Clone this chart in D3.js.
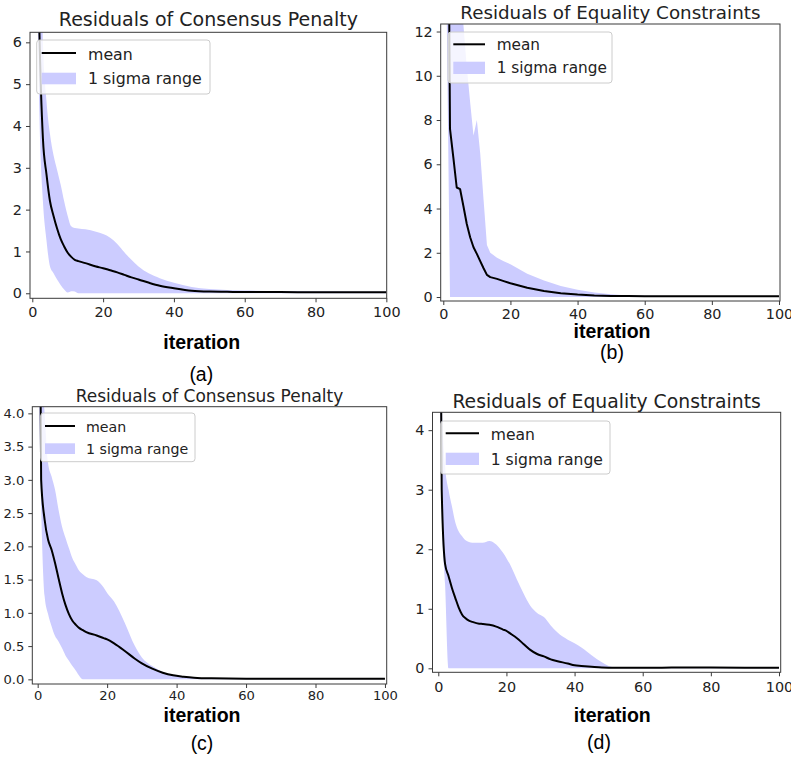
<!DOCTYPE html>
<html>
<head>
<meta charset="utf-8">
<script src="https://cdn.jsdelivr.net/npm/d3@7"></script>
<style>
  html, body { margin: 0; padding: 0; background: #fff; }
  svg { display: block; }
</style>
</head>
<body>
<script>
// ---------------- data ----------------
// (a) consensus penalty residuals, run 1
const iterA  = [1,2,3,4,5,6,7,8,9,10,11,12,13,15,18,20,22,24,26,28,30,33,36,40,45,50,55,60,70,80,90,100];
const meanA  = [12,6.3,3.7,2.85,2.2,1.85,1.55,1.3,1.12,0.97,0.87,0.8,0.77,0.72,0.64,0.6,0.55,0.5,0.44,0.38,0.33,0.25,0.18,0.12,0.06,0.04,0.035,0.03,0.03,0.025,0.025,0.025];
const upperA = [20,12,6.0,4.6,3.8,3.3,2.95,2.6,2.2,1.85,1.6,1.56,1.55,1.53,1.47,1.42,1.33,1.18,0.98,0.8,0.64,0.47,0.36,0.25,0.15,0.1,0.08,0.065,0.055,0.05,0.045,0.04];
const lowerA = [10,4.3,2.2,1.27,0.64,0.48,0.33,0.2,0.09,0.02,0.05,0.04,0,0,0,0,0,0,0,0,0,0,0,0,0,0,0,0,0,0,0,0];

// (b) equality constraint residuals, run 1
const iterB  = [1,2,3,4,5,6,7,8,9,10,11,12,13,14,16,18,20,25,30,35,40,45,50,55,60,70,80,90,100];
const meanB  = [30,7.6,6.3,4.95,4.88,4.1,3.3,2.7,2.25,1.95,1.62,1.3,1.0,0.9,0.82,0.72,0.62,0.42,0.27,0.17,0.11,0.07,0.05,0.045,0.04,0.035,0.03,0.03,0.03];
const upperB = [40,25,18,15,13.5,12.3,10.4,8.8,7.3,8.0,6.5,4.4,2.35,2.0,1.78,1.62,1.48,1.05,0.75,0.5,0.33,0.2,0.12,0.07,0.055,0.045,0.04,0.04,0.035];
const lowerB = [13,0,0,0,0,0,0,0,0,0,0,0,0,0,0,0,0,0,0,0,0,0,0,0,0,0,0,0,0];

// (c) consensus penalty residuals, run 2
const iterC  = [0,1,2,3,4,5,6,7,8,9,10,11,12,13,14,17,19,20,22,25,28,30,33,36,39,42,45,50,60,70,80,90,100];
const meanC  = [11,3.0,2.4,2.1,1.95,1.75,1.52,1.3,1.12,0.98,0.88,0.82,0.77,0.74,0.71,0.66,0.62,0.6,0.54,0.43,0.31,0.24,0.16,0.1,0.06,0.04,0.025,0.015,0.01,0.01,0.01,0.01,0.01];
const upperC = [16.4,4.8,4.0,3.25,3.05,2.85,2.55,2.3,2.13,1.97,1.82,1.72,1.63,1.58,1.54,1.49,1.38,1.3,1.17,0.86,0.5,0.33,0.2,0.11,0.06,0.04,0.02,0.012,0.01,0.01,0.01,0.01,0.01];
const lowerC = [5.6,2.6,1.25,0.98,0.8,0.65,0.57,0.47,0.36,0.28,0.2,0.13,0.05,0,0,0,0,0,0,0,0,0,0,0,0,0,0,0,0,0,0,0,0];

// (d) equality constraint residuals, run 2
const iterD  = [0,1,2,3,4,5,6,7,8,9,10,12,13,15,17,19,20,21,23,25,27,29,31,33,35,38,40,42,45,48,50,52,55,65,72,80,90,100];
const meanD  = [12,3.0,1.75,1.55,1.35,1.18,1.02,0.9,0.84,0.8,0.78,0.75,0.745,0.73,0.7,0.65,0.63,0.59,0.51,0.41,0.31,0.24,0.2,0.15,0.12,0.08,0.05,0.04,0.025,0.012,0.01,0.01,0.01,0.01,0.015,0.012,0.01,0.01];
const upperD = [16,4.6,3.4,3.0,2.72,2.45,2.3,2.22,2.15,2.12,2.11,2.11,2.11,2.14,2.08,1.94,1.85,1.75,1.5,1.26,1.05,0.93,0.86,0.72,0.6,0.48,0.42,0.35,0.22,0.1,0.04,0.015,0.01,0.01,0.015,0.012,0.01,0.01];
const lowerD = [8,2.6,1.4,0,0,0,0,0,0,0,0,0,0,0,0,0,0,0,0,0,0,0,0,0,0,0,0,0,0,0,0,0,0,0,0,0,0,0];

// tick labels and texts
const xTicks  = [0,20,40,60,80,100];
const yTicksA = [0,1,2,3,4,5,6];
const yTicksB = [0,2,4,6,8,10,12];
const yTicksC = [0,0.5,1,1.5,2,2.5,3,3.5,4];
const yTicksD = [0,1,2,3,4];
const titleConsensus = "Residuals of Consensus Penalty";
const titleEquality  = "Residuals of Equality Constraints";
const xLabelText = "iteration";
const legendLabels = ["mean", "1 sigma range"];
const captions = ["(a)", "(b)", "(c)", "(d)"];

// ---------------- layout ----------------
const W = 791, H = 758;
const BAND = "#ccccff";
const TEXT = "#222";
const SPINE = "#3a3a3a";
const MPL_FONT = "'DejaVu Sans', sans-serif";
const CAP_FONT = "'Liberation Sans', Arial, sans-serif";

const panels = [
  { iter: iterA, mean: meanA, upper: upperA, lower: lowerA, yTicks: yTicksA, yFmt: d3.format("d"),
    title: titleConsensus, caption: captions[0], curve: d3.curveMonotoneX,
    box: { l: 30, t: 32.3, r: 386.7, b: 298.3 }, xDom: [-0.65, 100.1], yDom: [-0.12, 6.24],
    tickSize: 14.4, xTickCenter: 312.5,
    titlePos: { y: 25.5, size: 19 }, xlab: { x: 201.7, y: 349 }, cap: { x: 201.3, y: 381 },
    leg: { x0: 36.7, y0: 40, x1: 210, y1: 94, hx0: 41.7, hx1: 76, ly: 53, py0: 72.7, py1: 84.3,
           tx: 88, t1: 60, t2: 84.3, size: 15.8 } },
  { iter: iterB, mean: meanB, upper: upperB, lower: lowerB, yTicks: yTicksB, yFmt: d3.format("d"),
    title: titleEquality, caption: captions[1], curve: d3.curveLinear,
    box: { l: 440.7, t: 24, r: 780, b: 301 }, xDom: [-0.77, 100.3], yDom: [-0.18, 12.34],
    tickSize: 14.4, xTickCenter: 314,
    titlePos: { y: 19, size: 18.3 }, xlab: { x: 612, y: 337.5 }, cap: { x: 612, y: 359 },
    leg: { x0: 448, y0: 32, x1: 612, y1: 83, hx0: 453.3, hx1: 485, ly: 44.3, py0: 61.7, py1: 74,
           tx: 496.7, t1: 50, t2: 73.3, size: 15.3 } },
  { iter: iterC, mean: meanC, upper: upperC, lower: lowerC, yTicks: yTicksC, yFmt: d3.format(".1f"),
    title: titleConsensus, caption: captions[2], curve: d3.curveMonotoneX,
    box: { l: 32.3, t: 406.7, r: 386.7, b: 684 }, xDom: [-1.55, 100.5], yDom: [-0.07, 4.1],
    tickSize: 13.1, xTickCenter: 695.8,
    titlePos: { y: 401.7, size: 17 }, xlab: { x: 202, y: 721.5 }, cap: { x: 202, y: 750 },
    leg: { x0: 40.7, y0: 413, x1: 195, y1: 461.7, hx0: 45, hx1: 75, ly: 426, py0: 443.3, py1: 454,
           tx: 86, t1: 431.7, t2: 454, size: 14.2 } },
  { iter: iterD, mean: meanD, upper: upperD, lower: lowerD, yTicks: yTicksD, yFmt: d3.format("d"),
    title: titleEquality, caption: captions[3], curve: d3.curveMonotoneX,
    box: { l: 432.5, t: 412.3, r: 780.7, b: 672.3 }, xDom: [-1.7, 100.5], yDom: [-0.067, 4.3],
    tickSize: 14.4, xTickCenter: 687.5,
    titlePos: { y: 408, size: 18.8 }, xlab: { x: 612.3, y: 721.7 }, cap: { x: 599, y: 749 },
    leg: { x0: 440.7, y0: 421, x1: 610, y1: 474, hx0: 445.7, hx1: 479, ly: 433.3, py0: 452.7, py1: 465,
           tx: 490.7, t1: 440, t2: 465, size: 15.6 } }
];

const svg = d3.select("body").append("svg")
  .attr("width", W).attr("height", H)
  .attr("viewBox", `0 0 ${W} ${H}`);

svg.append("rect").attr("width", W).attr("height", H).attr("fill", "#fff");

panels.forEach((p, i) => {
  const { l, t, r, b } = p.box;
  const x = d3.scaleLinear().domain(p.xDom).range([l, r]);
  const y = d3.scaleLinear().domain(p.yDom).range([b, t]);
  const g = svg.append("g").attr("class", "panel");

  const clipId = "clip" + i;
  g.append("clipPath").attr("id", clipId)
    .append("rect").attr("x", l).attr("y", t).attr("width", r - l).attr("height", b - t);

  const rows = p.iter.map((it, k) => ({ it, m: p.mean[k], hi: p.upper[k], lo: p.lower[k] }));

  const plot = g.append("g").attr("clip-path", `url(#${clipId})`);

  // one-sigma band
  plot.append("path")
    .datum(rows)
    .attr("fill", BAND)
    .attr("d", d3.area().curve(p.curve)
      .x(d => x(d.it)).y0(d => y(d.lo)).y1(d => y(d.hi)));

  // mean residual
  plot.append("path")
    .datum(rows)
    .attr("fill", "none")
    .attr("stroke", "#000")
    .attr("stroke-width", 2)
    .attr("stroke-linejoin", "round")
    .attr("d", d3.line().curve(p.curve).x(d => x(d.it)).y(d => y(d.m)));

  // axes
  const fs = p.tickSize;
  const padX = (p.xTickCenter - 0.364 * fs) - b - 4;
  const xAxis = g.append("g").attr("transform", `translate(0,${b})`)
    .call(d3.axisBottom(x).tickValues(xTicks).tickSize(4).tickPadding(padX).tickSizeOuter(0));
  const yAxis = g.append("g").attr("transform", `translate(${l},0)`)
    .call(d3.axisLeft(y).tickValues(p.yTicks).tickFormat(p.yFmt).tickSize(4).tickPadding(4).tickSizeOuter(0));
  [xAxis, yAxis].forEach(ax => {
    ax.select(".domain").remove();
    ax.selectAll(".tick line").attr("stroke", SPINE).attr("stroke-width", 1);
    ax.selectAll(".tick text")
      .attr("fill", TEXT)
      .style("font-family", MPL_FONT)
      .style("font-size", fs + "px");
  });

  // frame
  g.append("rect")
    .attr("x", l).attr("y", t).attr("width", r - l).attr("height", b - t)
    .attr("fill", "none").attr("stroke", SPINE).attr("stroke-width", 1);

  // title
  g.append("text")
    .attr("x", (l + r) / 2).attr("y", p.titlePos.y)
    .attr("text-anchor", "middle")
    .attr("fill", TEXT)
    .style("font-family", MPL_FONT)
    .style("font-size", p.titlePos.size + "px")
    .text(p.title);

  // legend
  const L = p.leg;
  const lg = g.append("g");
  lg.append("rect")
    .attr("x", L.x0).attr("y", L.y0).attr("width", L.x1 - L.x0).attr("height", L.y1 - L.y0)
    .attr("rx", 3).attr("ry", 3)
    .attr("fill", "#fff").attr("fill-opacity", 0.8)
    .attr("stroke", "#cccccc").attr("stroke-width", 1);
  lg.append("line")
    .attr("x1", L.hx0).attr("x2", L.hx1).attr("y1", L.ly).attr("y2", L.ly)
    .attr("stroke", "#000").attr("stroke-width", 2);
  lg.append("rect")
    .attr("x", L.hx0).attr("y", L.py0).attr("width", L.hx1 - L.hx0).attr("height", L.py1 - L.py0)
    .attr("fill", BAND);
  [L.t1, L.t2].forEach((ty, k) => {
    lg.append("text")
      .attr("x", L.tx).attr("y", ty)
      .attr("fill", TEXT)
      .style("font-family", MPL_FONT)
      .style("font-size", L.size + "px")
      .text(legendLabels[k]);
  });

  // x label and caption
  g.append("text")
    .attr("x", p.xlab.x).attr("y", p.xlab.y)
    .attr("text-anchor", "middle")
    .attr("fill", "#000")
    .style("font-family", CAP_FONT)
    .style("font-weight", "bold")
    .style("font-size", "19.5px")
    .text(xLabelText);
  g.append("text")
    .attr("x", p.cap.x).attr("y", p.cap.y)
    .attr("text-anchor", "middle")
    .attr("fill", "#000")
    .style("font-family", CAP_FONT)
    .style("font-size", "19.5px")
    .text(p.caption);
});
</script>
</body>
</html>
